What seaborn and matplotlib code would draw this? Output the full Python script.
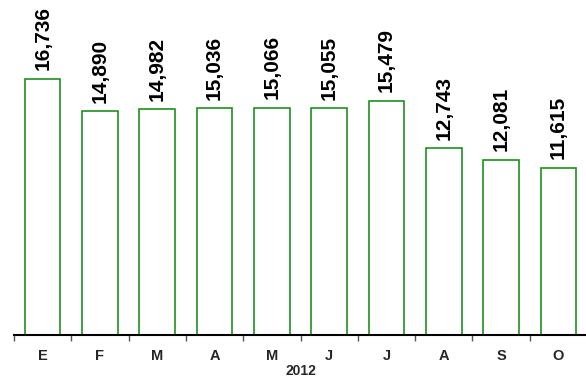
import matplotlib
matplotlib.use("Agg")
import matplotlib.pyplot as plt
import seaborn as sns
import pandas as pd

# Monthly totals for 2012
months = ["E", "F", "M", "A", "M", "J", "J", "A", "S", "O"]
values = [16736, 14890, 14982, 15036, 15066, 15055, 15479, 12743, 12081, 11615]
year_label = "2012"

df = pd.DataFrame({"pos": list(range(len(months))), "value": values})

sns.set_theme(style="white")
plt.rcParams["font.family"] = ["Liberation Sans", "DejaVu Sans"]

fig = plt.figure(figsize=(5.86, 3.81), dpi=100)
ax = fig.add_axes([14 / 586, 46 / 381, 573 / 586, 313 / 381])

sns.barplot(data=df, x="pos", y="value", color="white", edgecolor="#1f8f1f",
            linewidth=1.2, width=0.62, ax=ax, saturation=1)

ax.set_ylim(2000, 20000)
ax.set_xlim(-0.5, len(months) - 0.5)

# value labels above each bar
for i, v in enumerate(values):
    ax.annotate(f"{v:,}", xy=(i, v), xytext=(0, 6), textcoords="offset points",
                rotation=90, ha="center", va="bottom", fontsize=15,
                fontweight="bold", color="black", annotation_clip=False)

# category axis: labels centred, ticks at category boundaries
ax.set_xticks(range(len(months)))
ax.set_xticklabels(months, fontsize=10.5, fontweight="bold")
ax.set_xticks([i - 0.5 for i in range(len(months))], minor=True)
ax.tick_params(axis="x", which="major", length=0, pad=10)
ax.tick_params(axis="x", which="minor", length=4, width=1, color="#555555",
               direction="out", bottom=True)
ax.set_xlabel(year_label, fontsize=10, fontweight="bold", labelpad=1)
ax.set_ylabel("")
ax.set_yticks([])

for side in ["top", "right", "left"]:
    ax.spines[side].set_visible(False)
ax.spines["bottom"].set_color("black")
ax.spines["bottom"].set_linewidth(1.5)

fig.savefig("out.png", dpi=100, facecolor="white")
